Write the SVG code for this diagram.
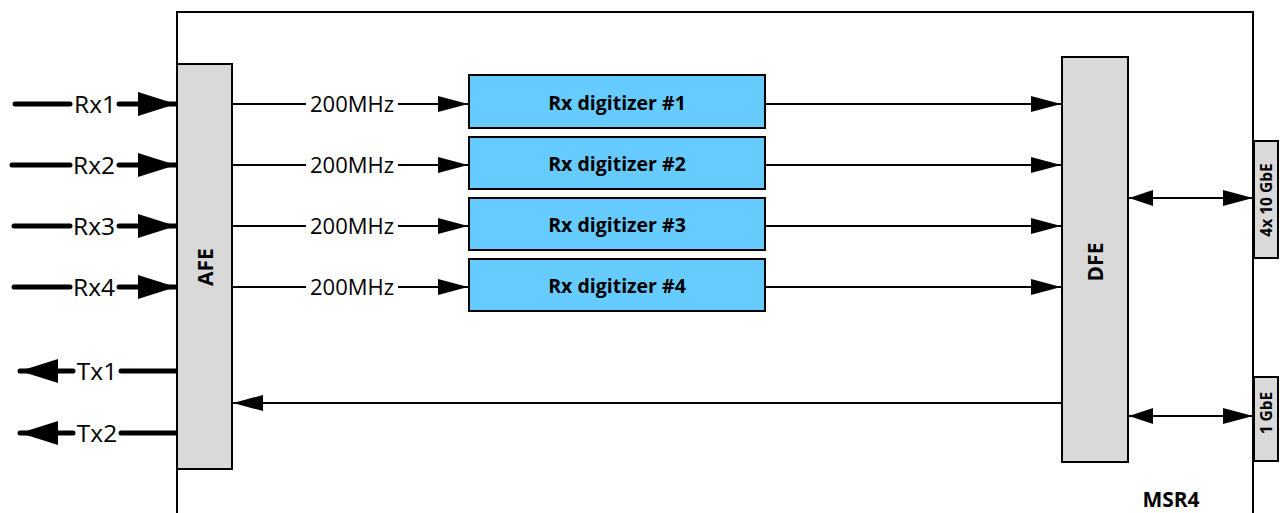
<svg xmlns="http://www.w3.org/2000/svg" width="1280" height="513" viewBox="0 0 1280 513">
<defs>
<marker id="ahm" markerWidth="30" markerHeight="16" refX="30" refY="8" orient="auto" markerUnits="userSpaceOnUse"><path d="M0,0 L30,8 L0,16 Z" fill="#000"/></marker>
<marker id="ahb" markerWidth="38" markerHeight="24" refX="38" refY="12" orient="auto" markerUnits="userSpaceOnUse"><path d="M0,0 L38,12 L0,24 Z" fill="#000"/></marker>
<marker id="ahms" markerWidth="24" markerHeight="16" refX="0" refY="8" orient="auto" markerUnits="userSpaceOnUse"><path d="M24,0 L0,8 L24,16 Z" fill="#000"/></marker>
</defs>
<style>
text{font-family:"Open Sans","Liberation Sans",sans-serif;fill:#000}
.gray{fill:#d9d9d9;stroke:#000;stroke-width:2}
.blue{fill:#66ccff;stroke:#000;stroke-width:2}
.thin{stroke:#000;stroke-width:2;fill:none}
.thick{stroke:#000;stroke-width:5;fill:none;stroke-linecap:round}
.lbl{font-size:24.5px}
.mhz{font-size:22px}
.b{font-weight:bold}
</style>
<rect width="1280" height="513" fill="#fff"/>
<g id="frame"><path d="M177,520 L177,12 L1253,12 L1253,520" class="thin"/></g>
<g id="connectors">
<path d="M15,104 H70" class="thick"/>
<path d="M119,104 H176" class="thick" marker-end="url(#ahb)"/>
<path d="M12,165 H70" class="thick"/>
<path d="M119,165 H176" class="thick" marker-end="url(#ahb)"/>
<path d="M14,226 H70" class="thick"/>
<path d="M119,226 H176" class="thick" marker-end="url(#ahb)"/>
<path d="M14,287 H70" class="thick"/>
<path d="M119,287 H176" class="thick" marker-end="url(#ahb)"/>
<path d="M177,371 H121" class="thick"/>
<path d="M73,371 H20" class="thick" marker-end="url(#ahb)"/>
<path d="M177,433 H121" class="thick"/>
<path d="M73,433 H20" class="thick" marker-end="url(#ahb)"/>
<path d="M232,104 H306" class="thin"/>
<path d="M398,104 H468" class="thin" marker-end="url(#ahm)"/>
<path d="M232,165 H306" class="thin"/>
<path d="M398,165 H468" class="thin" marker-end="url(#ahm)"/>
<path d="M232,226 H306" class="thin"/>
<path d="M398,226 H468" class="thin" marker-end="url(#ahm)"/>
<path d="M232,287 H306" class="thin"/>
<path d="M398,287 H468" class="thin" marker-end="url(#ahm)"/>
<path d="M765,104 H1061" class="thin" marker-end="url(#ahm)"/>
<path d="M765,165 H1061" class="thin" marker-end="url(#ahm)"/>
<path d="M765,226 H1061" class="thin" marker-end="url(#ahm)"/>
<path d="M765,287 H1061" class="thin" marker-end="url(#ahm)"/>
<path d="M1062,403 H233" class="thin" marker-end="url(#ahm)"/>
<path d="M1129,198 H1253" class="thin" marker-start="url(#ahms)" marker-end="url(#ahm)"/>
<path d="M1129,416 H1253" class="thin" marker-start="url(#ahms)" marker-end="url(#ahm)"/>
<text x="95" y="113" class="lbl" text-anchor="middle">Rx1</text>
<text x="94" y="174" class="lbl" text-anchor="middle">Rx2</text>
<text x="94" y="235" class="lbl" text-anchor="middle">Rx3</text>
<text x="94" y="296" class="lbl" text-anchor="middle">Rx4</text>
<text x="97" y="380" class="lbl" text-anchor="middle">Tx1</text>
<text x="97" y="442" class="lbl" text-anchor="middle">Tx2</text>
<text x="352" y="112" class="mhz" text-anchor="middle">200MHz</text>
<text x="352" y="173" class="mhz" text-anchor="middle">200MHz</text>
<text x="352" y="234" class="mhz" text-anchor="middle">200MHz</text>
<text x="352" y="295" class="mhz" text-anchor="middle">200MHz</text>
</g>
<g id="afe"><rect x="177" y="64" width="55" height="405" class="gray"/><text transform="translate(213,267) rotate(-90)" text-anchor="middle" font-size="21" class="b">AFE</text></g>
<g id="dfe"><rect x="1062" y="57" width="66" height="405" class="gray"/><text transform="translate(1103,262) rotate(-90)" text-anchor="middle" font-size="21" class="b">DFE</text></g>
<g id="rxd1"><rect x="469" y="75" width="296" height="53" class="blue"/><text x="617" y="110" text-anchor="middle" font-size="19.5" class="b">Rx digitizer #1</text></g>
<g id="rxd2"><rect x="469" y="137" width="296" height="52" class="blue"/><text x="617" y="171" text-anchor="middle" font-size="19.5" class="b">Rx digitizer #2</text></g>
<g id="rxd3"><rect x="469" y="198" width="296" height="52" class="blue"/><text x="617" y="232" text-anchor="middle" font-size="19.5" class="b">Rx digitizer #3</text></g>
<g id="rxd4"><rect x="469" y="259" width="296" height="52" class="blue"/><text x="617" y="293" text-anchor="middle" font-size="19.5" class="b">Rx digitizer #4</text></g>
<g id="p10g"><rect x="1254" y="141" width="24" height="117" class="gray"/><text transform="translate(1272,200) rotate(-90)" text-anchor="middle" font-size="15.5" class="b">4x 10 GbE</text></g>
<g id="p1g"><rect x="1254" y="377" width="24" height="84" class="gray"/><text transform="translate(1272,413) rotate(-90)" text-anchor="middle" font-size="15.5" class="b">1 GbE</text></g>
<g id="msr4"><text x="1171" y="507" text-anchor="middle" font-size="21" class="b">MSR4</text></g>
</svg>
